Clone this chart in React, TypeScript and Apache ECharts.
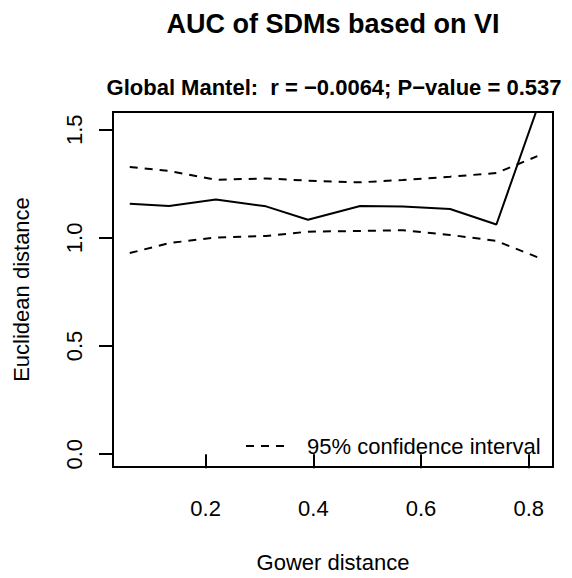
import React, { useEffect, useRef } from "react";
import * as echarts from "echarts";

// Data
const gowerDistance = [0.059, 0.132, 0.219, 0.312, 0.39, 0.487, 0.566, 0.654, 0.74, 0.816];
const mantelStatistic = [1.158, 1.148, 1.178, 1.146, 1.084, 1.148, 1.145, 1.134, 1.062, 1.6];
const upperCI = [1.328, 1.31, 1.269, 1.275, 1.265, 1.257, 1.268, 1.283, 1.3, 1.378];
const lowerCI = [0.93, 0.976, 1.002, 1.009, 1.029, 1.032, 1.036, 1.014, 0.986, 0.911];
const xTicks = [0.2, 0.4, 0.6, 0.8];
const yTicks = [0, 0.5, 1.0, 1.5];

const titleText = "AUC of SDMs based on VI";
const subtitleText = "Global Mantel:  r = \u22120.0064; P\u2212value = 0.537";
const xName = "Gower distance";
const yName = "Euclidean distance";
const ciName = "95% confidence interval";

const FONT = "'Liberation Sans', Arial, Helvetica, sans-serif";

const zip = (xs: number[], ys: number[]) => xs.map((x, i) => [x, ys[i]]);

export default function App() {
  const ref = useRef<HTMLDivElement>(null);

  useEffect(() => {
    if (!ref.current) return;
    const chart = echarts.init(ref.current, undefined, { renderer: "svg" });
    const axisCommon = {
      type: "value" as const,
      splitLine: { show: false },
      axisLine: { show: false },
      nameLocation: "middle" as const,
      nameTextStyle: { fontSize: 22, color: "#000", fontFamily: FONT },
    };
    chart.setOption({
      animation: false,
      backgroundColor: "#fff",
      textStyle: { fontFamily: FONT },
      grid: {
        left: 113,
        top: 112,
        width: 440,
        height: 360,
        show: true,
        borderColor: "#000",
        borderWidth: 2,
        backgroundColor: "transparent",
      },
      graphic: [
        {
          type: "text",
          x: 333,
          y: 24,
          style: {
            text: titleText,
            font: `bold 27px ${FONT}`,
            fill: "#000",
            textAlign: "center",
            textVerticalAlign: "middle",
          },
        },
        {
          type: "text",
          x: 334,
          y: 87,
          style: {
            text: subtitleText,
            font: `bold 22px ${FONT}`,
            fill: "#000",
            textAlign: "center",
            textVerticalAlign: "middle",
          },
        },
      ],
      xAxis: {
        ...axisCommon,
        min: 0.0279,
        max: 0.8451,
        name: xName,
        nameGap: 84,
        axisTick: {
          show: true,
          length: 14,
          lineStyle: { color: "#000", width: 2 },
          customValues: xTicks,
        },
        axisLabel: {
          fontSize: 22,
          color: "#000",
          margin: 30,
          customValues: xTicks,
          formatter: (v: number) => v.toFixed(1),
        },
      },
      yAxis: {
        ...axisCommon,
        min: -0.0593,
        max: 1.5823,
        name: yName,
        nameGap: 81,
        axisTick: {
          show: true,
          length: 14,
          lineStyle: { color: "#000", width: 2 },
          customValues: yTicks,
        },
        axisLabel: {
          fontSize: 22,
          color: "#000",
          margin: 28,
          rotate: 90,
          customValues: yTicks,
          formatter: (v: number) => v.toFixed(1),
        },
      },
      legend: {
        data: [ciName],
        left: 245,
        top: 435,
        padding: 0,
        itemWidth: 38,
        itemHeight: 14,
        selectedMode: false,
        itemStyle: { color: "transparent", borderWidth: 0, opacity: 0 },
        textStyle: { fontSize: 22, color: "#000", fontFamily: FONT, padding: [0, 0, 0, 18] },
      },
      series: [
        {
          type: "line",
          name: "Mantel correlogram",
          data: zip(gowerDistance, mantelStatistic),
          symbol: "none",
          clip: true,
          color: "#000",
          lineStyle: { color: "#000", width: 2 },
          silent: true,
        },
        {
          type: "line",
          name: ciName,
          data: zip(gowerDistance, upperCI),
          symbol: "none",
          clip: true,
          color: "#000",
          lineStyle: { color: "#000", width: 2, type: [8, 7] },
          silent: true,
        },
        {
          type: "line",
          name: ciName,
          data: zip(gowerDistance, lowerCI),
          symbol: "none",
          clip: true,
          color: "#000",
          lineStyle: { color: "#000", width: 2, type: [8, 7] },
          silent: true,
        },
      ],
    });
    return () => chart.dispose();
  }, []);

  return (
    <div
      ref={ref}
      style={{ position: "fixed", left: 0, top: 0, width: 572, height: 578, background: "#fff" }}
    />
  );
}
